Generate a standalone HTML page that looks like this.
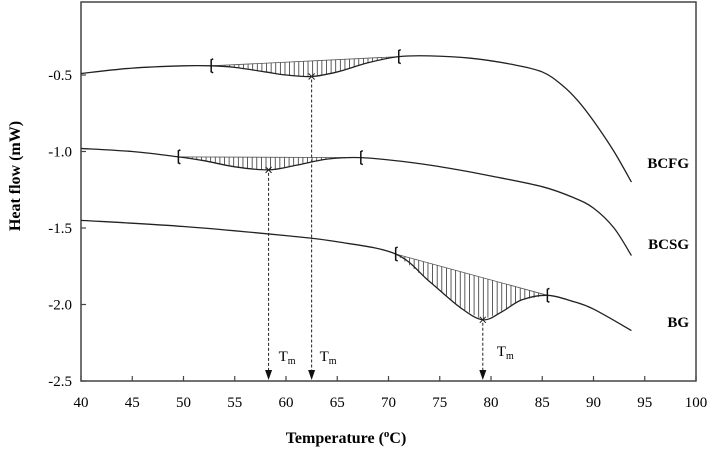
<!DOCTYPE html>
<html><head><meta charset="utf-8"><style>
body{margin:0;background:#fff}
svg{display:block;font-family:"Liberation Serif",serif}
</style></head><body>
<svg id="chart" width="712" height="452" viewBox="0 0 712 452" xmlns="http://www.w3.org/2000/svg">
<rect x="81" y="2" width="615" height="379" fill="none" stroke="#444" stroke-width="1.5"/>
<g id="ticks"></g><g id="series"></g><g id="annot"></g>
<text x="346" y="443" text-anchor="middle" font-weight="bold" font-size="16">Temperature (<tspan font-size="11" dy="-6">o</tspan><tspan dy="6">C)</tspan></text>
<text transform="translate(20,176) rotate(-90)" text-anchor="middle" font-weight="bold" font-size="16">Heat flow (mW)</text>
</svg>
<script>
const xTicks=[40,45,50,55,60,65,70,75,80,85,90,95,100];
const yTicks=[-0.5,-1.0,-1.5,-2.0,-2.5];
const seriesNames=["BCFG","BCSG","BG"];
const bcfgT=[40,45,50,52.7,55,58,60,62.5,65,68,71,74,78,82,85,87,88.5,90,92,93.7];
const bcfgV=[-0.49,-0.455,-0.44,-0.44,-0.45,-0.48,-0.5,-0.51,-0.48,-0.42,-0.38,-0.375,-0.39,-0.43,-0.48,-0.57,-0.67,-0.8,-1.0,-1.2];
const bcsgT=[40,45,49.5,52,55,58.3,61,64,67.3,72,76,80,85,88,90,92,93.7];
const bcsgV=[-0.98,-1.0,-1.035,-1.06,-1.1,-1.12,-1.09,-1.05,-1.04,-1.07,-1.11,-1.16,-1.23,-1.3,-1.37,-1.5,-1.68];
const bgT=[40,50,60,65,70.7,74,77,79.2,81,83,85.5,88,90,93.7];
const bgV=[-1.45,-1.49,-1.55,-1.59,-1.67,-1.85,-2.02,-2.1,-2.05,-1.97,-1.94,-1.98,-2.03,-2.17];
const peakStart=[52.7,49.5,70.7];
const peakEnd=[71,67.3,85.5];
const peakTm=[62.5,58.3,79.2];
const labelV=[-1.075,-1.605,-2.115];

const X=t=>81+(t-40)*615/60;
const Y=v=>381-(v+2.5)*153;
const NS="http://www.w3.org/2000/svg";
function mk(tag,attrs,parent){const e=document.createElementNS(NS,tag);for(const k in attrs)e.setAttribute(k,attrs[k]);parent.appendChild(e);return e;}
const ticks=document.getElementById('ticks'),ser=document.getElementById('series'),ann=document.getElementById('annot');
xTicks.forEach(t=>{
 const l=mk('line',{x1:X(t),x2:X(t),y1:381,y2:376,stroke:'#444','stroke-width':1.2},ticks);
 
 
 const tx=mk('text',{x:X(t),y:407,'text-anchor':'middle','font-size':15},ticks);
 tx.textContent=t;
 
 
});
yTicks.forEach(v=>{
 const l=mk('line',{x1:81,x2:86,y1:Y(v),y2:Y(v),stroke:'#444','stroke-width':1.2},ticks);
 
 
 const tx=mk('text',{x:72,y:Y(v)+5,'text-anchor':'end','font-size':15},ticks);
 tx.textContent=v.toFixed(1);
 
 
});
function interp(T,V,t){for(let i=0;i<T.length-1;i++){if(t>=T[i]&&t<=T[i+1]){return V[i]+(V[i+1]-V[i])*(t-T[i])/(T[i+1]-T[i]);}}return V[V.length-1];}
function smooth(T,V){const p=T.map((t,i)=>[X(t),Y(V[i])]);let d='M'+p[0][0]+','+p[0][1];
 for(let i=0;i<p.length-1;i++){const p0=p[i-1]||p[i],p1=p[i],p2=p[i+1],p3=p[i+2]||p2;
 const c1=[p1[0]+(p2[0]-p0[0])/6,p1[1]+(p2[1]-p0[1])/6],c2=[p2[0]-(p3[0]-p1[0])/6,p2[1]-(p3[1]-p1[1])/6];
 d+=' C'+c1+' '+c2+' '+p2;}return d;}
const all=[[bcfgT,bcfgV],[bcsgT,bcsgV],[bgT,bgV]];
const tmOff=[8,10,14];
all.forEach(([T,V],k)=>{
 const name=seriesNames[k].toLowerCase();
 const s=peakStart[k],e=peakEnd[k],vs=interp(T,V,s),ve=interp(T,V,e);
 for(let t=s+0.45;t<e;t+=0.45){const vc=interp(T,V,t),vb=vs+(ve-vs)*(t-s)/(e-s);
  const h=mk('line',{x1:X(t),x2:X(t),y1:Y(vb),y2:Y(vc),stroke:'#333','stroke-width':0.8},ser);
  
  }
 const c=mk('line',{x1:X(s),y1:Y(vs),x2:X(e),y2:Y(ve),stroke:'#555','stroke-width':0.8},ser);
 
 
 const p=mk('path',{d:smooth(T,V),fill:'none',stroke:'#222','stroke-width':1.3},ser);
 
 
 [s,e].forEach(t=>{const v=interp(T,V,t);
  const m=mk('path',{d:`M${X(t)+2},${Y(v)-7} L${X(t)},${Y(v)-6} L${X(t)},${Y(v)+6} L${X(t)+2},${Y(v)+7}`,fill:'none',stroke:'#111','stroke-width':1.5},ser);
  
  });
 const tm=peakTm[k],vm=interp(T,V,tm);
 const xm=mk('path',{d:`M${X(tm)-3},${Y(vm)-3} L${X(tm)+3},${Y(vm)+3} M${X(tm)+3},${Y(vm)-3} L${X(tm)-3},${Y(vm)+3}`,stroke:'#222','stroke-width':1},ser);
 
 
 const a=mk('line',{x1:X(tm),x2:X(tm),y1:Y(vm)+3,y2:372,stroke:'#222','stroke-width':1,'stroke-dasharray':'3,2'},ann);
 
 
 const ah=mk('path',{d:`M${X(tm)-3.5},370 L${X(tm)+3.5},370 L${X(tm)},380 Z`,fill:'#111'},ann);
 
 
 const tl=mk('text',{x:X(tm)+tmOff[k],y:k==2?356:361,'font-size':15},ann);
 tl.innerHTML='T<tspan font-size="10" dy="3">m</tspan>';
 
 
 const sl=mk('text',{x:689,y:Y(labelV[k])+5,'text-anchor':'end','font-size':15,'font-weight':'bold'},ann);
 sl.textContent=seriesNames[k];
 
 
});
</script>
</body></html>
